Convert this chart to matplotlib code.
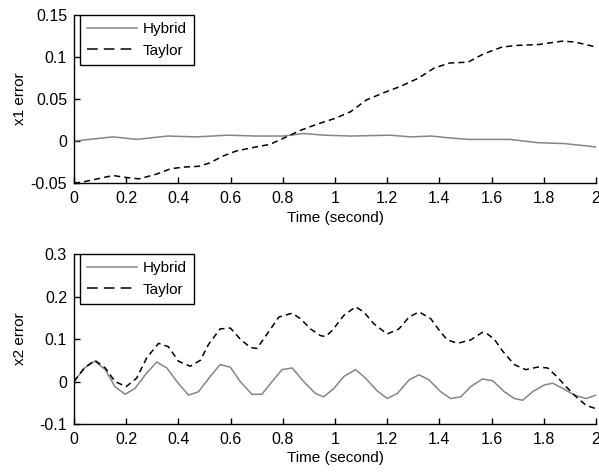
import matplotlib
matplotlib.use("Agg")
import matplotlib.pyplot as plt
from matplotlib.lines import Line2D

plt.rcParams["font.family"] = ["Liberation Sans", "DejaVu Sans"]

# x1 error (top panel)
t_x1_hybrid = [0, 0.06, 0.15, 0.24, 0.36, 0.47, 0.59, 0.70, 0.80, 0.88, 0.96,
               1.06, 1.21, 1.29, 1.37, 1.43, 1.51, 1.67, 1.78, 1.88, 2.0]
x1_hybrid = [0, 0.002, 0.005, 0.002, 0.006, 0.005, 0.007, 0.006, 0.006, 0.009, 0.007,
             0.006, 0.007, 0.005, 0.006, 0.004, 0.002, 0.002, -0.002, -0.003, -0.007]

t_x1_taylor = [0, 0.03, 0.09, 0.15, 0.19, 0.25, 0.32, 0.37, 0.42, 0.48, 0.52, 0.57,
               0.62, 0.68, 0.75, 0.80, 0.87, 0.93, 1.0, 1.06, 1.12, 1.19, 1.25, 1.32,
               1.38, 1.44, 1.51, 1.57, 1.64, 1.70, 1.78, 1.87, 1.92, 1.96, 2.0]
x1_taylor = [-0.050, -0.049, -0.045, -0.041, -0.043, -0.045, -0.039, -0.033, -0.031,
             -0.030, -0.026, -0.018, -0.012, -0.008, -0.004, 0.003, 0.013, 0.020,
             0.027, 0.035, 0.049, 0.058, 0.065, 0.075, 0.087, 0.093, 0.094, 0.104,
             0.112, 0.114, 0.115, 0.119, 0.118, 0.115, 0.112]

# x2 error (bottom panel)
t_x2_hybrid = [0, 0.04, 0.08, 0.12, 0.157, 0.196, 0.234, 0.273, 0.317, 0.356, 0.394,
               0.439, 0.477, 0.522, 0.56, 0.599, 0.637, 0.682, 0.72, 0.759, 0.797,
               0.836, 0.88, 0.925, 0.957, 0.996, 1.034, 1.079, 1.117, 1.162, 1.2,
               1.239, 1.284, 1.322, 1.36, 1.405, 1.443, 1.482, 1.52, 1.565, 1.604,
               1.649, 1.687, 1.719, 1.757, 1.802, 1.834, 1.872, 1.917, 1.962, 2.0]
x2_hybrid = [0, 0.032, 0.048, 0.028, -0.012, -0.03, -0.016, 0.016, 0.046, 0.032, 0,
             -0.032, -0.024, 0.012, 0.04, 0.034, 0, -0.03, -0.03, 0, 0.028,
             0.032, 0, -0.028, -0.036, -0.016, 0.012, 0.028, 0.008, -0.022, -0.04,
             -0.028, 0.004, 0.016, 0.004, -0.024, -0.04, -0.036, -0.012, 0.006, 0.002,
             -0.024, -0.04, -0.044, -0.024, -0.008, -0.004, -0.016, -0.032, -0.04, -0.032]

t_x2_taylor = [0, 0.04, 0.08, 0.12, 0.157, 0.2, 0.24, 0.279, 0.324, 0.362, 0.4, 0.445,
               0.484, 0.516, 0.56, 0.599, 0.637, 0.676, 0.701, 0.74, 0.785, 0.836,
               0.868, 0.906, 0.945, 0.964, 0.989, 1.034, 1.079, 1.11, 1.149, 1.2,
               1.245, 1.284, 1.322, 1.367, 1.405, 1.431, 1.47, 1.5, 1.52, 1.565,
               1.584, 1.61, 1.642, 1.687, 1.731, 1.776, 1.815, 1.853, 1.885, 1.924,
               1.962, 2.0]
x2_taylor = [0, 0.032, 0.05, 0.032, 0.0, -0.012, 0.008, 0.056, 0.09, 0.082, 0.048, 0.036,
             0.05, 0.088, 0.124, 0.126, 0.1, 0.08, 0.078, 0.112, 0.152, 0.161,
             0.148, 0.124, 0.108, 0.106, 0.12, 0.156, 0.176, 0.164, 0.136, 0.112,
             0.124, 0.152, 0.164, 0.148, 0.116, 0.098, 0.09, 0.095, 0.098, 0.116,
             0.112, 0.1, 0.072, 0.04, 0.028, 0.034, 0.032, 0.01, -0.012, -0.036,
             -0.056, -0.064]

x_ticks = [0, 0.2, 0.4, 0.6, 0.8, 1, 1.2, 1.4, 1.6, 1.8, 2]
x_tick_labels = ["0", "0.2", "0.4", "0.6", "0.8", "1", "1.2", "1.4", "1.6", "1.8", "2"]
y1_ticks = [-0.05, 0, 0.05, 0.1, 0.15]
y1_tick_labels = ["-0.05", "0", "0.05", "0.1", "0.15"]
y2_ticks = [-0.1, 0, 0.1, 0.2, 0.3]
y2_tick_labels = ["-0.1", "0", "0.1", "0.2", "0.3"]

HYBRID_COLOR = "#858585"
TICK_FS = 11.5
LABEL_FS = 11


def style_axis(ax, yticks, yticklabels, ylabel):
    ax.set_xlim(0, 2)
    ax.set_ylim(yticks[0], yticks[-1])
    ax.set_xticks(x_ticks)
    ax.set_xticklabels(x_tick_labels)
    ax.set_yticks(yticks)
    ax.set_yticklabels(yticklabels)
    for side in ("top", "right"):
        ax.spines[side].set_visible(False)
    for side in ("left", "bottom"):
        ax.spines[side].set_linewidth(1.0)
    ax.tick_params(direction="in", length=4.5, width=1.0, labelsize=TICK_FS)
    ax.tick_params(axis="x", pad=6)
    ax.tick_params(axis="y", pad=5)
    ax.set_xlabel("Time (second)", fontsize=LABEL_FS, labelpad=3)
    ax.set_ylabel(ylabel, fontsize=LABEL_FS)
    ax.yaxis.set_label_coords(-0.09, 0.5)
    handles = [
        Line2D([], [], color=HYBRID_COLOR, lw=1.1),
        Line2D([], [], color="black", lw=1.1, dashes=(7, 4)),
    ]
    leg = ax.legend(handles, ["Hybrid", "Taylor"], loc="upper left",
                    bbox_to_anchor=(0.011, 1.0), borderaxespad=0, fontsize=LABEL_FS,
                    fancybox=False, framealpha=1, edgecolor="black",
                    handlelength=3.3, handletextpad=0.4, borderpad=0.45,
                    labelspacing=0.5)
    leg.get_frame().set_linewidth(1.0)


fig = plt.figure(figsize=(5.99, 4.73), dpi=100)
ax1 = fig.add_axes([0.1235, 0.613, 0.8715, 0.355])
ax2 = fig.add_axes([0.1235, 0.1036, 0.8715, 0.359])

ax1.plot(t_x1_hybrid, x1_hybrid, color=HYBRID_COLOR, lw=1.1)
ax1.plot(t_x1_taylor, x1_taylor, color="black", lw=1.1, dashes=(4, 2.7))
style_axis(ax1, y1_ticks, y1_tick_labels, "x1 error")

ax2.plot(t_x2_hybrid, x2_hybrid, color=HYBRID_COLOR, lw=1.1)
ax2.plot(t_x2_taylor, x2_taylor, color="black", lw=1.1, dashes=(4, 2.7))
style_axis(ax2, y2_ticks, y2_tick_labels, "x2 error")

fig.savefig("out.png", dpi=100)
